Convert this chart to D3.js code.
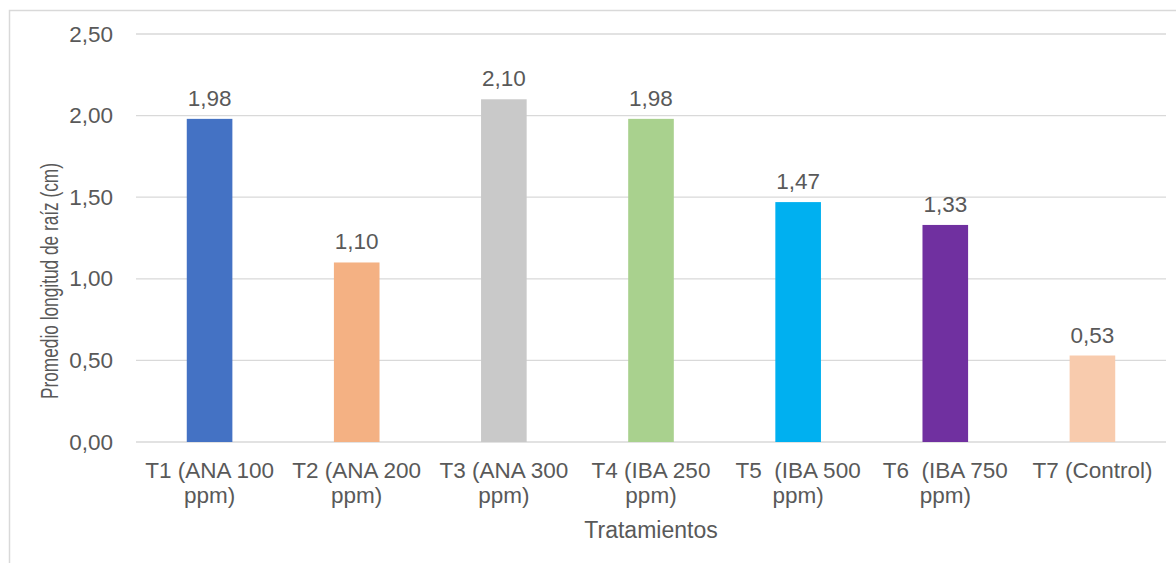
<!DOCTYPE html>
<html>
<head>
<meta charset="utf-8">
<script src="https://cdn.jsdelivr.net/npm/d3@7"></script>
<style>
  html, body { margin: 0; padding: 0; background: #fff; }
  svg text { font-family: "Liberation Sans", Arial, sans-serif; fill: #595959; }
</style>
</head>
<body>
<svg id="chart" width="1176" height="563"></svg>
<script>
const categories = ["T1 (ANA 100|ppm)", "T2 (ANA 200|ppm)", "T3 (ANA 300|ppm)", "T4 (IBA 250|ppm)", "T5  (IBA 500|ppm)", "T6  (IBA 750|ppm)", "T7 (Control)"];
const values = [1.98, 1.10, 2.10, 1.98, 1.47, 1.33, 0.53];
const colors = ["#4472C4", "#F4B183", "#C9C9C9", "#A9D18E", "#00B0F0", "#7030A0", "#F8CBAD"];
const yTicks = [0, 0.5, 1, 1.5, 2, 2.5];
const yTitle = "Promedio longitud de raíz (cm)";
const xTitle = "Tratamientos";

const fmt = v => d3.format(".2f")(v).replace(".", ",");

const svg = d3.select("#chart");
const W = 1176, H = 563;
const m = { left: 136, right: 10, top: 34, bottom: 121 };
const FS = 22.5;

// outer chart border (partially visible)
svg.append("path")
  .attr("d", `M9.5,${H} V10.5 H${W}`)
  .attr("fill", "none").attr("stroke", "#D9D9D9").attr("stroke-width", 1.5);

const x = d3.scaleBand().domain(categories).range([m.left, W - m.right]).paddingInner(0.69).paddingOuter(0.345);
const y = d3.scaleLinear().domain([0, 2.5]).range([H - m.bottom, m.top]);

// gridlines
svg.append("g").selectAll("line").data(yTicks).join("line")
  .attr("x1", m.left).attr("x2", W - m.right)
  .attr("y1", d => y(d)).attr("y2", d => y(d))
  .attr("stroke", "#D9D9D9").attr("stroke-width", 1.3);

// y tick labels
svg.append("g").selectAll("text").data(yTicks).join("text")
  .attr("x", 113).attr("y", d => y(d) + 7.5)
  .attr("text-anchor", "end").attr("font-size", FS)
  .text(d => fmt(d));

// bars
svg.append("g").selectAll("rect").data(values).join("rect")
  .attr("x", (d, i) => x(categories[i]))
  .attr("width", x.bandwidth())
  .attr("y", d => y(d))
  .attr("height", d => y(0) - y(d))
  .attr("fill", (d, i) => colors[i]);

// value labels
svg.append("g").selectAll("text").data(values).join("text")
  .attr("x", (d, i) => x(categories[i]) + x.bandwidth() / 2)
  .attr("y", d => y(d) - 13)
  .attr("text-anchor", "middle").attr("font-size", FS)
  .text(d => fmt(d));

// x category labels
const xl = svg.append("g").selectAll("text").data(categories).join("text")
  .attr("x", d => x(d) + x.bandwidth() / 2)
  .attr("y", 478)
  .attr("text-anchor", "middle").attr("font-size", FS)
  .style("white-space", "pre");
xl.each(function(d) {
  const lines = d.split("|");
  const t = d3.select(this);
  lines.forEach((ln, k) => {
    t.append("tspan").attr("x", x(d) + x.bandwidth() / 2).attr("dy", k === 0 ? 0 : 25).text(ln);
  });
});

// axis titles
svg.append("text")
  .attr("x", (m.left + W - m.right) / 2).attr("y", 538)
  .attr("text-anchor", "middle").attr("font-size", 23)
  .text(xTitle);

svg.append("text")
  .attr("transform", `translate(58,281) rotate(-90)`)
  .attr("text-anchor", "middle").attr("font-size", 23)
  .attr("textLength", 236).attr("lengthAdjust", "spacingAndGlyphs")
  .text(yTitle);
</script>
</body>
</html>
